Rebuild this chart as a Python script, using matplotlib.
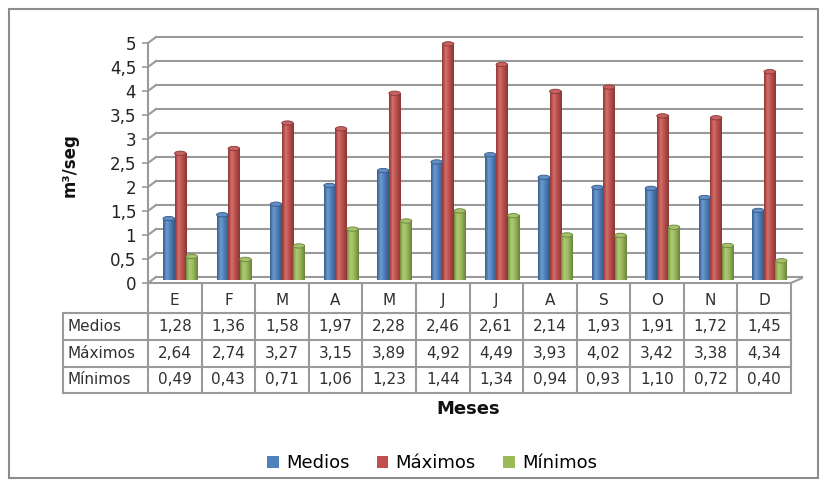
import numpy as np
import matplotlib
matplotlib.use("Agg")
import matplotlib.pyplot as plt
from matplotlib.colors import to_rgb
from matplotlib.patches import Rectangle, Ellipse, Patch

# --- Data ---
MESES = ["E", "F", "M", "A", "M", "J", "J", "A", "S", "O", "N", "D"]
SERIES = ["Medios", "Máximos", "Mínimos"]
MEDIOS = [1.28, 1.36, 1.58, 1.97, 2.28, 2.46, 2.61, 2.14, 1.93, 1.91, 1.72, 1.45]
MAXIMOS = [2.64, 2.74, 3.27, 3.15, 3.89, 4.92, 4.49, 3.93, 4.02, 3.42, 3.38, 4.34]
MINIMOS = [0.49, 0.43, 0.71, 1.06, 1.23, 1.44, 1.34, 0.94, 0.93, 1.10, 0.72, 0.40]
Y_TICKS = [0, 0.5, 1, 1.5, 2, 2.5, 3, 3.5, 4, 4.5, 5]

COLORS = ["#4F81BD", "#C0504D", "#9BBB59"]
GRID = "#9A9A9A"
TEXT = "#303030"

# --- Layout (pixels) ---
W, H = 832, 484
X0, X1 = 148, 791          # plot / table column span
Y0, Y5 = 283, 43           # pixel rows of y=0 and y=5
ROW_PIX = [283, 313, 340, 367, 393]   # table row borders
ROWLAB_LEFT = 63
BAR_W = 0.215
BAR_OFF = 0.28
DX, DY = 0.15, 0.125       # fake 3D depth of the back wall


def fmt(v):
    return f"{v:g}".replace(".", ",")


def shade(c, k):
    c = np.array(to_rgb(c))
    if k >= 0:
        return c + (1 - c) * k
    return c * (1 + k)


fig = plt.figure(figsize=(W / 100, H / 100), dpi=100)
ax = fig.add_axes([X0 / W, (H - Y0) / H, (X1 - X0) / W, (Y0 - Y5) / H])

# back wall grid + left wall diagonals
for v in Y_TICKS:
    ax.plot([DX, 12.2], [v + DY, v + DY], color=GRID, lw=1.5, zorder=1, clip_on=False)
    ax.plot([0, DX], [v, v + DY], color=GRID, lw=1.5, zorder=1, clip_on=False)
ax.plot([12, 12.2], [0, DY * 0.8], color=GRID, lw=1.5, zorder=1, clip_on=False)

# cylinder-ish bars, set half way into the depth
base = DY / 2
t = np.linspace(0, 1, 24)
prof = np.interp(t, [0, 0.3, 1], [-0.25, 0.2, -0.3])
for j, vals in enumerate([MEDIOS, MAXIMOS, MINIMOS]):
    c = COLORS[j]
    img = np.array([[shade(c, k) for k in prof]])
    img = np.clip(img, 0, 1)
    for i, v in enumerate(vals):
        x0 = i + BAR_OFF + j * BAR_W
        im = ax.imshow(img, extent=(x0, x0 + BAR_W, base, v + base), aspect="auto",
                       interpolation="bilinear", zorder=3 + j * 0.01)
        im.set_clip_on(False)
        ax.add_patch(Ellipse((x0 + BAR_W / 2, v + base), BAR_W, 0.09,
                             facecolor=shade(c, 0.1), edgecolor=shade(c, -0.3),
                             lw=0.6, zorder=4 + j * 0.01, clip_on=False))

ax.set_xlim(0, 12)
ax.set_ylim(0, 5)
ax.set_xticks([])
ax.set_yticks(Y_TICKS, labels=[fmt(v) for v in Y_TICKS])
ax.tick_params(axis="y", length=4.5, width=1.2, color=GRID, labelsize=12,
               labelcolor="#222222", pad=4)
for s in ["top", "right"]:
    ax.spines[s].set_visible(False)
for s in ["left", "bottom"]:
    ax.spines[s].set_color(GRID)
    ax.spines[s].set_linewidth(1.5)
ax.patch.set_visible(False)

# data table under the axis
T = ax.get_xaxis_transform()
ya = [(Y0 - p) / (Y0 - Y5) for p in ROW_PIX]
xl = (ROWLAB_LEFT - X0) / ((X1 - X0) / 12)
tbl = dict(color=GRID, lw=1.5, transform=T, clip_on=False, zorder=2)
for k in range(13):
    ax.plot([k, k], [ya[0], ya[4]], **tbl)
ax.plot([xl, xl], [ya[1], ya[4]], **tbl)
for r in range(1, 5):
    ax.plot([xl, 12], [ya[r], ya[r]], **tbl)

for i, m in enumerate(MESES):
    ax.text(i + 0.5, (ya[0] + ya[1]) / 2 - 0.01, m, transform=T, ha="center",
            va="center", fontsize=11, color=TEXT)
for r, (name, vals) in enumerate(zip(SERIES, [MEDIOS, MAXIMOS, MINIMOS])):
    ym = (ya[r + 1] + ya[r + 2]) / 2
    ax.text(xl + 0.08, ym, name, transform=T, ha="left", va="center",
            fontsize=11, color=TEXT)
    for i, v in enumerate(vals):
        ax.text(i + 0.5, ym, f"{v:.2f}".replace(".", ","), transform=T,
                ha="center", va="center", fontsize=11, color=TEXT)

# titles
fig.text(70 / W, 1 - 165 / H, "m³/seg", rotation=90, ha="center", va="center",
         fontsize=12, fontweight="bold", color="#111111")
fig.text(468 / W, 1 - 409 / H, "Meses", ha="center", va="center",
         fontsize=13, fontweight="bold", color="#111111")

# legend
handles = [Patch(facecolor=c) for c in COLORS]
fig.legend(handles, SERIES, loc="center", bbox_to_anchor=(432 / W, 1 - 463 / H),
           ncol=3, frameon=False, fontsize=13, handlelength=0.65, handleheight=0.65,
           handletextpad=0.4, columnspacing=1.5)

# outer chart frame
fig.add_artist(Rectangle((9 / W, 6 / H), 809 / W, 469 / H, transform=fig.transFigure,
                         fill=False, edgecolor="#8C8C8C", lw=1.5))

fig.savefig("out.png", dpi=100)
